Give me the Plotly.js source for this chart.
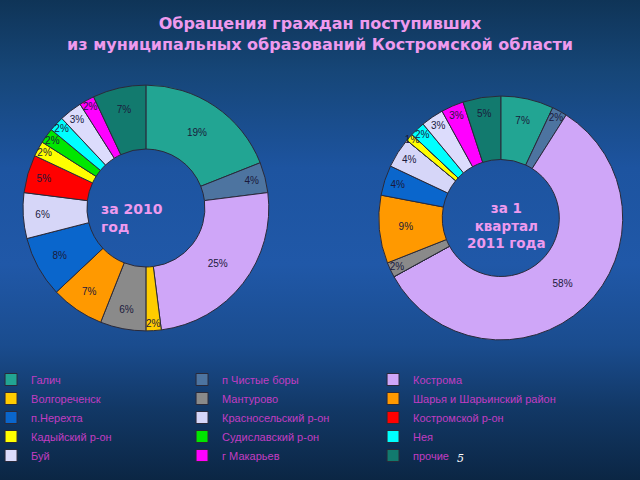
<!DOCTYPE html>
<html>
<head>
<meta charset="utf-8">
<script src="https://cdn.plot.ly/plotly-3.0.1.min.js"></script>
<style>
  html, body { margin: 0; padding: 0; }
  body {
    width: 640px; height: 480px; overflow: hidden;
    background: linear-gradient(to bottom, #0f3457 0%, #164678 15%, #1d54a0 35%, #2058a8 55%, #1a4c8e 72%, #123866 85%, #0b2644 100%);
  }
  #chart { width: 640px; height: 480px; }
</style>
</head>
<body>
<div id="chart"></div>
<script>
// areas, same order in both charts and in the legend
const areas = [
  'Галич', 'п Чистые боры', 'Кострома',
  'Волгореченск', 'Мантурово', 'Шарья и Шарьинский район',
  'п.Нерехта', 'Красносельский р-он', 'Костромской р-он',
  'Кадыйский р-он', 'Судиславский р-он', 'Нея',
  'Буй', 'г Макарьев', 'прочие'
];
const areaColors = [
  '#22a593', '#4d74a0', '#cfa6f8',
  '#ffcc00', '#8a8a8a', '#ff9900',
  '#0a66cc', '#d6d6f8', '#ff0000',
  '#ffff00', '#00e600', '#00ffff',
  '#dcdcfc', '#ff00ff', '#127a6e'
];

// shares, %
const share2010 = [19, 4, 25, 2, 6, 7, 8, 6, 5, 2, 2, 2, 3, 2, 7];
const shareQ1_2011 = [7, 2, 58, 0, 2, 9, 4, 4, 0, 1, 0, 2, 3, 3, 5];

const pctText = arr => arr.map(v => v > 0 ? v + '%' : '');

function donut(values, domain) {
  return {
    type: 'pie',
    labels: areas,
    values: values,
    text: pctText(values),
    textinfo: 'text',
    textposition: 'inside',
    insidetextorientation: 'horizontal',
    textfont: { family: 'Liberation Sans, Arial, sans-serif', size: 10, color: '#1a1a3c' },
    hole: 0.48,
    sort: false,
    direction: 'clockwise',
    rotation: 0,
    marker: { colors: areaColors, line: { color: '#2a2a3a', width: 1 } },
    domain: domain,
    hoverinfo: 'label+percent'
  };
}

// plot area: top 365 px of the page, legend sits below it
const data = [
  donut(share2010, { x: [0.036, 0.42], y: [0.0932, 0.7671] }),
  donut(shareQ1_2011, { x: [0.592, 0.973], y: [0.0685, 0.737] })
];

const pink = '#ee9aee';
const layout = {
  width: 640,
  height: 480,
  margin: { l: 0, r: 0, t: 0, b: 115, autoexpand: false },
  paper_bgcolor: 'rgba(0,0,0,0)',
  plot_bgcolor: 'rgba(0,0,0,0)',
  font: { family: 'Liberation Sans, Arial, sans-serif' },
  title: {
    text: 'Обращения граждан поступивших<br>из муниципальных образований Костромской области',
    font: { family: 'DejaVu Sans, sans-serif', size: 16, color: pink, weight: 'bold' },
    x: 0.5, xanchor: 'center',
    y: 0.94, yanchor: 'top'
  },
  uniformtext: { mode: 'show', minsize: 10 },
  showlegend: true,
  legend: {
    orientation: 'h',
    x: -0.014, xanchor: 'left',
    y: 0, yanchor: 'top',
    entrywidth: 146, entrywidthmode: 'pixels',
    itemwidth: 30,
    tracegroupgap: 0,
    font: { family: 'Liberation Sans, Arial, sans-serif', size: 11, color: '#c23cc2' },
    bgcolor: 'rgba(0,0,0,0)'
  },
  annotations: [
    {
      text: 'за 2010<br>год', align: 'left',
      x: 99 / 640, xanchor: 'left', y: 0.4548, yanchor: 'top',
      xref: 'paper', yref: 'paper', showarrow: false,
      font: { family: 'DejaVu Sans, sans-serif', size: 14, color: pink, weight: 'bold' }
    },
    {
      text: 'за 1<br>квартал<br>2011 года', align: 'center',
      x: 506 / 640, xanchor: 'center', y: 0.4575, yanchor: 'top',
      xref: 'paper', yref: 'paper', showarrow: false,
      font: { family: 'DejaVu Sans, sans-serif', size: 13.5, color: pink, weight: 'bold' }
    },
    {
      text: '<i>5</i>', x: 466 / 640, y: -0.2795,
      xref: 'paper', yref: 'paper', showarrow: false,
      font: { family: 'DejaVu Serif, serif', size: 11, color: '#ffffff' }
    }
  ]
};

Plotly.newPlot('chart', data, layout, { displayModeBar: false, staticPlot: true });
</script>
</body>
</html>
